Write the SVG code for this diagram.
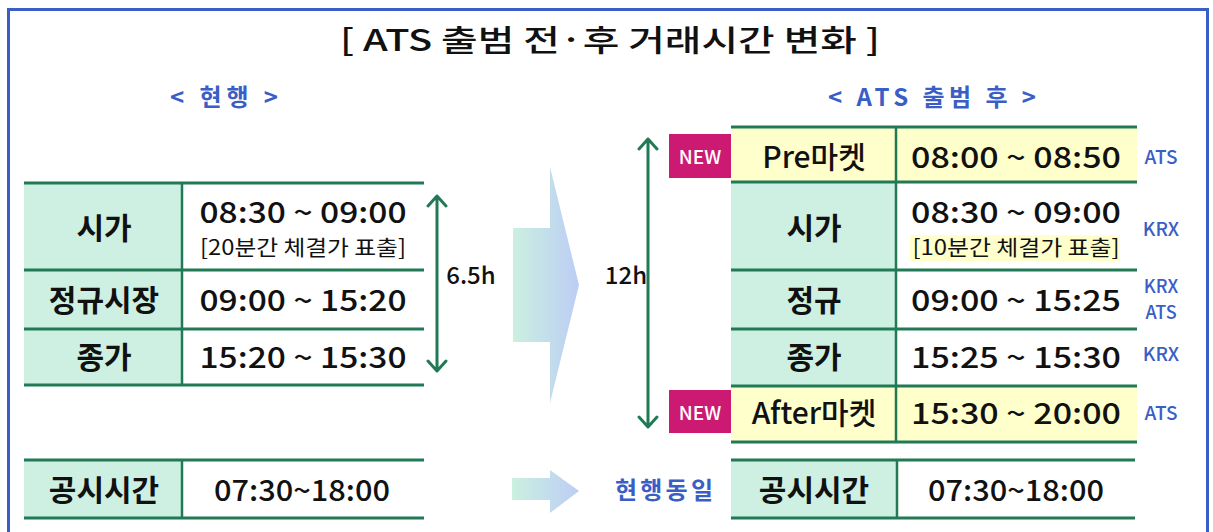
<svg xmlns="http://www.w3.org/2000/svg" width="1213" height="532" viewBox="0 0 1213 532">
<defs>
<style>
text{font-family:"Noto Sans CJK KR","Noto Sans",sans-serif;dominant-baseline:central;text-anchor:middle}
.ln{stroke:#217a55;stroke-width:3;fill:none}
.vd{stroke:#217a55;stroke-width:2.5}
.hd{fill:#cdf0e2}
.yl{fill:#ffffcc}
.lbl{font-size:30px;font-weight:700;fill:#111}
.tm{font-size:29px;font-weight:500;fill:#111}
.sm{font-size:21px;font-weight:400;fill:#111}
.src{font-size:19px;font-weight:500;fill:#3a5ec6}
.sub{font-size:24px;font-weight:700;fill:#3a5ec6}
.new{fill:#cc1a72}
.newt{font-size:19px;font-weight:500;fill:#fff}
.arr{stroke:#217a55;stroke-width:3;fill:none;stroke-linecap:round;stroke-linejoin:round}
.hr{font-size:24px;font-weight:500;fill:#111}
</style>
<linearGradient id="ga" x1="0" y1="0" x2="1" y2="0">
<stop offset="0" stop-color="#cbf0e0"/>
<stop offset="1" stop-color="#bccdf5"/>
</linearGradient>
</defs>
<rect x="0" y="0" width="1213" height="532" fill="#fff"/>
<path d="M8.5 560 V9.5 H1207.5 V560" fill="none" stroke="#3a5ec6" stroke-width="3"/>
<text id="title" x="610" y="38" style="font-size:30px;font-weight:500;fill:#111" textLength="540" lengthAdjust="spacingAndGlyphs">[ ATS 출범 전·후 거래시간 변화 ]</text>
<text x="224" y="95" class="sub" textLength="108" lengthAdjust="spacing">&lt; 현행 &gt;</text>
<text x="932" y="95" class="sub" textLength="208" lengthAdjust="spacing">&lt; ATS 출범 후 &gt;</text>

<g id="left-table">
<rect x="24" y="183" width="158" height="202" class="hd"/>
<line x1="182" y1="183" x2="182" y2="385" class="vd"/>
<line x1="24" y1="183" x2="424" y2="183" class="ln"/>
<line x1="24" y1="270" x2="424" y2="270" class="ln"/>
<line x1="24" y1="329" x2="424" y2="329" class="ln"/>
<line x1="24" y1="385" x2="424" y2="385" class="ln"/>
<text x="104" y="226" class="lbl">시가</text>
<text x="303" y="210" class="tm" textLength="207" lengthAdjust="spacingAndGlyphs">08:30 ~ 09:00</text>
<text x="303" y="246" class="sm" textLength="206" lengthAdjust="spacingAndGlyphs">[20분간 체결가 표출]</text>
<text x="104" y="298" class="lbl">정규시장</text>
<text x="303" y="298" class="tm" textLength="207" lengthAdjust="spacingAndGlyphs">09:00 ~ 15:20</text>
<text x="104" y="355" class="lbl">종가</text>
<text x="303" y="355" class="tm" textLength="207" lengthAdjust="spacingAndGlyphs">15:20 ~ 15:30</text>
</g>

<g id="right-table">
<rect x="731" y="126" width="406" height="56" class="yl"/>
<rect x="731" y="182" width="165" height="204" class="hd"/>
<rect x="731" y="386" width="406" height="56" class="yl"/>
<rect x="910" y="235" width="210" height="26" class="yl"/>
<line x1="896" y1="126" x2="896" y2="442" class="vd"/>
<line x1="731" y1="127" x2="1137" y2="127" class="ln"/>
<line x1="731" y1="182" x2="1137" y2="182" class="ln"/>
<line x1="731" y1="270" x2="1137" y2="270" class="ln"/>
<line x1="731" y1="329" x2="1137" y2="329" class="ln"/>
<line x1="731" y1="386" x2="1137" y2="386" class="ln"/>
<line x1="731" y1="442" x2="1137" y2="442" class="ln"/>
<text x="814" y="155" class="lbl" style="font-weight:500">Pre마켓</text>
<text x="1016" y="155" class="tm" textLength="210" lengthAdjust="spacingAndGlyphs">08:00 ~ 08:50</text>
<text x="814" y="226" class="lbl">시가</text>
<text x="1016" y="210" class="tm" textLength="210" lengthAdjust="spacingAndGlyphs">08:30 ~ 09:00</text>
<text x="1016" y="246" class="sm" textLength="207" lengthAdjust="spacingAndGlyphs">[10분간 체결가 표출]</text>
<text x="814" y="298" class="lbl">정규</text>
<text x="1016" y="298" class="tm" textLength="210" lengthAdjust="spacingAndGlyphs">09:00 ~ 15:25</text>
<text x="814" y="355" class="lbl">종가</text>
<text x="1016" y="355" class="tm" textLength="210" lengthAdjust="spacingAndGlyphs">15:25 ~ 15:30</text>
<text x="814" y="411" class="lbl" style="font-weight:500">After마켓</text>
<text x="1016" y="411" class="tm" textLength="210" lengthAdjust="spacingAndGlyphs">15:30 ~ 20:00</text>
</g>

<g id="sources">
<text x="1161" y="155" class="src">ATS</text>
<text x="1161" y="227" class="src">KRX</text>
<text x="1161" y="285" class="src" style="font-size:18px">KRX</text>
<text x="1161" y="311" class="src" style="font-size:18px">ATS</text>
<text x="1161" y="352" class="src">KRX</text>
<text x="1161" y="411" class="src">ATS</text>
</g>

<g id="new-badges">
<rect x="669" y="134" width="62" height="44" class="new"/>
<text x="700" y="155" class="newt">NEW</text>
<rect x="669" y="390" width="62" height="43" class="new"/>
<text x="700" y="411" class="newt">NEW</text>
</g>

<g id="left-bottom">
<rect x="24" y="460" width="158" height="58" class="hd"/>
<line x1="182" y1="460" x2="182" y2="518" class="vd"/>
<line x1="24" y1="460" x2="424" y2="460" class="ln"/>
<line x1="24" y1="518" x2="424" y2="518" class="ln"/>
<text x="104" y="488" class="lbl">공시시간</text>
<text x="302" y="488" class="tm" textLength="176" lengthAdjust="spacingAndGlyphs">07:30~18:00</text>
</g>

<g id="right-bottom">
<rect x="731" y="460" width="166" height="58" class="hd"/>
<line x1="897" y1="460" x2="897" y2="518" class="vd"/>
<line x1="731" y1="460" x2="1135" y2="460" class="ln"/>
<line x1="731" y1="518" x2="1135" y2="518" class="ln"/>
<text x="814" y="488" class="lbl">공시시간</text>
<text x="1016" y="488" class="tm" textLength="176" lengthAdjust="spacingAndGlyphs">07:30~18:00</text>
</g>

<g id="connectors">
<path d="M437 196 V371 M428 206 L437 196 L446 206 M428 361 L437 371 L446 361" class="arr"/>
<path d="M648 139 V427 M639 149 L648 139 L657 149 M639 417 L648 427 L657 417" class="arr"/>
<path d="M513 228 H550 V167 L579 285 L550 403 V342 H513 Z" fill="url(#ga)"/>
<path d="M512 478 H550 V470 L579 491 L550 513 V500 H512 Z" fill="url(#ga)"/>
</g>
<text x="471" y="273" class="hr">6.5h</text>
<text x="626" y="273" class="hr">12h</text>
<text x="664" y="488" class="sub" textLength="98" lengthAdjust="spacing">현행동일</text>
</svg>
